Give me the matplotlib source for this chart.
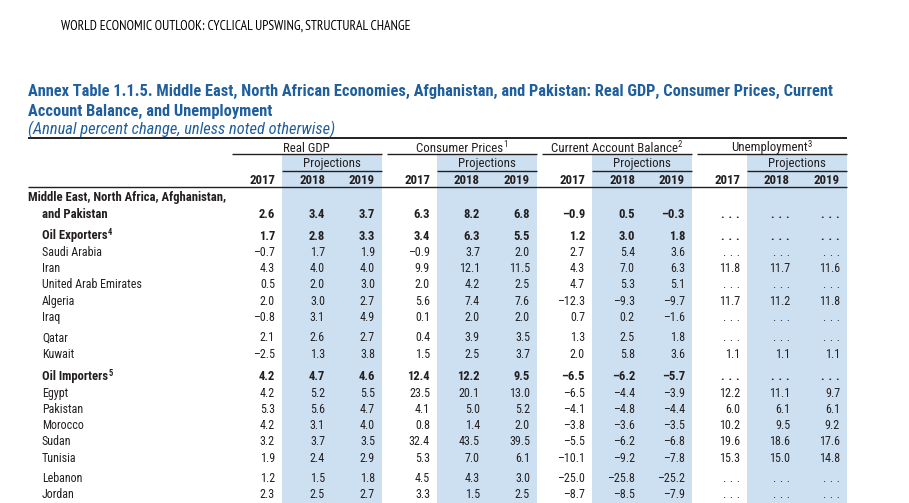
import matplotlib
matplotlib.use("Agg")
import matplotlib.pyplot as plt
from matplotlib import font_manager as fm
from matplotlib.patches import Rectangle

# ---------------- data ----------------
row_labels = ["and Pakistan", "Oil Exporters", "Saudi Arabia", "Iran", "United Arab Emirates",
              "Algeria", "Iraq", "Qatar", "Kuwait", "Oil Importers", "Egypt", "Pakistan",
              "Morocco", "Sudan", "Tunisia", "Lebanon", "Jordan"]
row_bold = [True, True] + [False] * 7 + [True] + [False] * 7
row_sup = {"Oil Exporters": "4", "Oil Importers": "5"}

gdp_2017 = [2.6, 1.7, -0.7, 4.3, 0.5, 2.0, -0.8, 2.1, -2.5, 4.2, 4.2, 5.3, 4.2, 3.2, 1.9, 1.2, 2.3]
gdp_2018 = [3.4, 2.8, 1.7, 4.0, 2.0, 3.0, 3.1, 2.6, 1.3, 4.7, 5.2, 5.6, 3.1, 3.7, 2.4, 1.5, 2.5]
gdp_2019 = [3.7, 3.3, 1.9, 4.0, 3.0, 2.7, 4.9, 2.7, 3.8, 4.6, 5.5, 4.7, 4.0, 3.5, 2.9, 1.8, 2.7]
cpi_2017 = [6.3, 3.4, -0.9, 9.9, 2.0, 5.6, 0.1, 0.4, 1.5, 12.4, 23.5, 4.1, 0.8, 32.4, 5.3, 4.5, 3.3]
cpi_2018 = [8.2, 6.3, 3.7, 12.1, 4.2, 7.4, 2.0, 3.9, 2.5, 12.2, 20.1, 5.0, 1.4, 43.5, 7.0, 4.3, 1.5]
cpi_2019 = [6.8, 5.5, 2.0, 11.5, 2.5, 7.6, 2.0, 3.5, 3.7, 9.5, 13.0, 5.2, 2.0, 39.5, 6.1, 3.0, 2.5]
cab_2017 = [-0.9, 1.2, 2.7, 4.3, 4.7, -12.3, 0.7, 1.3, 2.0, -6.5, -6.5, -4.1, -3.8, -5.5, -10.1, -25.0, -8.7]
cab_2018 = [0.5, 3.0, 5.4, 7.0, 5.3, -9.3, 0.2, 2.5, 5.8, -6.2, -4.4, -4.8, -3.6, -6.2, -9.2, -25.8, -8.5]
cab_2019 = [-0.3, 1.8, 3.6, 6.3, 5.1, -9.7, -1.6, 1.8, 3.6, -5.7, -3.9, -4.4, -3.5, -6.8, -7.8, -25.2, -7.9]
unemp_2017 = [None, None, None, 11.8, None, 11.7, None, None, 1.1, None, 12.2, 6.0, 10.2, 19.6, 15.3, None, None]
unemp_2018 = [None, None, None, 11.7, None, 11.2, None, None, 1.1, None, 11.1, 6.1, 9.5, 18.6, 15.0, None, None]
unemp_2019 = [None, None, None, 11.6, None, 11.8, None, None, 1.1, None, 9.7, 6.1, 9.2, 17.6, 14.8, None, None]

groups = ["Real GDP", "Consumer Prices", "Current Account Balance", "Unemployment"]
group_sup = ["", "1", "2", "3"]
years = ["2017", "2018", "2019"]
columns = [[gdp_2017, gdp_2018, gdp_2019], [cpi_2017, cpi_2018, cpi_2019],
           [cab_2017, cab_2018, cab_2019], [unemp_2017, unemp_2018, unemp_2019]]

running_head = "WORLD ECONOMIC OUTLOOK: CYCLICAL UPSWING, STRUCTURAL CHANGE"
title_1 = ("Annex Table 1.1.5. Middle East, North African Economies, Afghanistan, and Pakistan: "
           "Real GDP, Consumer Prices, Current")
title_2 = "Account Balance, and Unemployment"
subtitle = "(Annual percent change, unless noted otherwise)"
region_line = "Middle East, North Africa, Afghanistan,"

# ---------------- style ----------------
names = {f.name for f in fm.fontManager.ttflist}


def pick(*cands):
    for c in cands:
        if c in names:
            return c
    return "DejaVu Sans"


BODY = pick("Roboto Condensed", "Liberation Sans Narrow", "Liberation Sans")
HEAD = pick("PT Sans Narrow", "Open Sans Condensed", "Roboto Condensed", "Liberation Sans Narrow")
TEXT = "#231f20"
BLUE = "#1f5f9e"
SHADE = "#cde0f1"

W, H = 909, 503
fig = plt.figure(figsize=(W / 100, H / 100), dpi=100)
ax = fig.add_axes([0, 0, 1, 1])
ax.set_xlim(0, W)
ax.set_ylim(H, 0)
ax.axis("off")
renderer = fig.canvas.get_renderer()


def width_px(s, size, family, weight="normal", style="normal"):
    t = ax.text(0, 0, s, fontsize=size, family=family, weight=weight, style=style)
    w = t.get_window_extent(renderer).width
    t.remove()
    return w


def fit(s, target, family, weight="normal", style="normal"):
    return 10 * target / width_px(s, 10, family, weight, style)


# running head
fs_head = fit(running_head, 349, HEAD)
ax.text(61, 30, running_head, fontsize=fs_head, family=HEAD, color="black", va="baseline")

# title
fs_title = fit(title_1, 805, BODY, "bold")
ax.text(28, 95.5, title_1, fontsize=fs_title, family=BODY, weight="bold", color=BLUE, va="baseline")
ax.text(28, 115.5, title_2, fontsize=fs_title, family=BODY, weight="bold", color=BLUE, va="baseline")
fs_sub = fit(subtitle, 305, BODY, style="italic")
ax.text(28, 134, subtitle, fontsize=fs_sub, family=BODY, style="italic", color=BLUE, va="baseline")

# body font size
fs_body = fit("United Arab Emirates", 99, BODY)
fs_bold = fit(region_line, 197, BODY, "bold")
fs_hdr = fit("Current Account Balance", 126, BODY)
SUP = 0.68

# layout
X0, X1 = 28, 847
g0, gstep = 232, 155
col_right = [43, 93, 143]
band = (50, 149.5)

# row positions (baselines)
gaps = [0, 22, 16.3, 16.3, 16.3, 16.3, 16.3, 20.3, 16.3, 22.6, 16.3, 16.3, 16.3, 16.3, 16.3, 20.3, 16.3]
base0 = 217.5
row_y = []
y = base0
for gp in gaps:
    y += gp
    row_y.append(y)

# shading
for g in range(4):
    gx = g0 + gstep * g
    ax.add_patch(Rectangle((gx + band[0], 155), band[1] - band[0], H - 155,
                           facecolor=SHADE, edgecolor="none", zorder=0))

# rules
ax.plot([X0, X1], [138, 138], color=TEXT, lw=1.4, solid_capstyle="butt")
ax.plot([X0, X1], [187, 187], color=TEXT, lw=1.0, solid_capstyle="butt")
for g in range(4):
    gx = g0 + gstep * g
    ax.plot([gx, gx + 149.5], [154, 154], color=TEXT, lw=1.0, solid_capstyle="butt")
    ax.plot([gx + band[0], gx + band[1]], [171, 171], color=TEXT, lw=1.0, solid_capstyle="butt")

# headers
for g in range(4):
    gx = g0 + gstep * g
    cx = gx + 149.5 / 2
    name = groups[g]
    wname = width_px(name, fs_hdr, BODY)
    wname_total = wname + (width_px(group_sup[g], fs_hdr * SUP, BODY) if group_sup[g] else 0)
    xs = cx - wname_total / 2
    ax.text(xs, 151.5, name, fontsize=fs_hdr, family=BODY, color=TEXT, va="baseline")
    if group_sup[g]:
        ax.text(xs + wname, 147, group_sup[g], fontsize=fs_hdr * SUP, family=BODY, color=TEXT,
                va="baseline")
    ax.text(gx + (band[0] + band[1]) / 2, 167.5, "Projections", fontsize=fs_hdr, family=BODY,
            color=TEXT, ha="center", va="baseline")
    for k, yr in enumerate(years):
        ax.text(gx + col_right[k], 184, yr, fontsize=fs_hdr, family=BODY, weight="bold",
                color=TEXT, ha="right", va="baseline")


def fmt(v):
    if v is None:
        return ".\u2004.\u2004."
    return f"{v:.1f}".replace("-", "\u2013")


# region header line
ax.text(28, 201, region_line, fontsize=fs_bold, family=BODY, weight="bold", color=TEXT, va="baseline")

for i, lab in enumerate(row_labels):
    yb = row_y[i]
    bold = row_bold[i]
    wt = "bold" if bold else "normal"
    fs = fs_bold if bold else fs_body
    ax.text(42, yb, lab, fontsize=fs, family=BODY, weight=wt, color=TEXT, va="baseline")
    if lab in row_sup:
        wl = width_px(lab, fs, BODY, wt)
        ax.text(42 + wl + 0.3, yb - 4.5, row_sup[lab], fontsize=fs * SUP, family=BODY, weight=wt,
                color=TEXT, va="baseline")
    for g in range(4):
        gx = g0 + gstep * g
        for k in range(3):
            v = columns[g][k][i]
            ax.text(gx + col_right[k], yb, fmt(v), fontsize=fs, family=[BODY, "DejaVu Sans"],
                    weight=wt, color=TEXT, ha="right", va="baseline")

fig.savefig("out.png", dpi=100)
